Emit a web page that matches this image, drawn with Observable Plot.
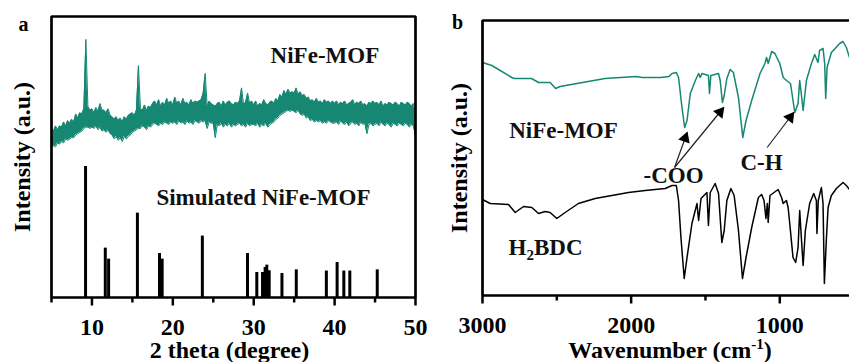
<!DOCTYPE html>
<html><head><meta charset="utf-8">
<script src="https://cdn.jsdelivr.net/npm/d3@7"></script>
<script src="https://cdn.jsdelivr.net/npm/@observablehq/plot@0.6"></script>
<style>
body{margin:0;background:#fff;}
#wrap{display:flex;flex-wrap:nowrap;width:849px;height:362px;background:#fff;}
</style></head><body><div id="wrap"></div>
<script>
const FONT = '"Liberation Serif","Times New Roman",serif';
const TEAL = "#158772";

// ---------- Panel a : XRD (measured trace given as upper / lower envelope of the noisy band) ----------
const xrdStart = 5, xrdStep = 0.25;
const xrdUpper = [
129,127,131,128,131,130,134,131,135,133,136,134,140,137,141,140,144,197,146,143,
144,141,145,142,148,143,143,141,144,139,138,136,138,135,137,134,138,136,139,140,
141,139,143,177,144,143,147,143,146,145,148,150,147,151,146,149,147,152,148,150,
147,153,148,150,147,152,148,149,147,151,148,150,149,150,151,156,171,146,150,148,
147,146,148,149,146,150,147,149,150,148,147,149,148,150,160,147,149,156,148,150,
147,150,146,148,147,151,148,147,149,150,148,152,150,155,153,158,155,159,156,157,
156,160,155,157,154,155,152,153,150,151,149,152,149,150,148,151,149,150,148,150,
148,150,147,149,148,150,147,148,149,151,147,149,148,150,147,148,146,149,148,150,
148,149,147,150,146,148,147,149,148,147,149,148,146,149,148,147,149,148,146,148,140
];
const xrdLower = [
114,116,115,118,117,119,118,121,120,121,122,122,124,125,126,127,129,130,130,129,
130,129,131,128,130,127,128,126,128,125,124,121,123,120,122,119,123,121,123,124,
126,127,128,129,129,131,130,128,131,130,132,133,132,131,133,132,134,133,132,134,
133,134,132,135,133,134,132,135,133,134,132,135,134,133,135,134,135,129,134,133,
133,122,132,131,133,130,132,131,133,130,132,131,132,133,131,132,130,133,131,132,
132,131,133,130,132,131,133,130,132,133,134,136,137,139,140,141,142,143,142,143,
142,141,143,140,139,140,137,138,135,136,134,135,134,135,133,134,133,135,134,133,
133,134,132,135,133,132,134,131,133,134,132,133,131,134,132,133,125,132,133,131,
132,133,131,134,132,131,133,132,130,133,132,131,133,132,131,133,132,130,132,131,123
];
const simTheta = [9.21, 11.65, 12.06, 15.62, 18.35, 18.68, 23.65, 29.23, 30.38, 31.09, 31.41, 31.62, 31.91, 33.49, 35.26, 38.98, 40.31, 41.14, 41.88, 45.27];
const simIntensity = [100, 37.7, 29.3, 64.4, 33.6, 29.3, 46.9, 33.6, 19.1, 19.1, 22.9, 24.7, 20.4, 18.3, 21.1, 20.2, 26.7, 20.2, 20.2, 21.1];
const xrdDomain = [5, 50];
const xrdMajorTicks = [10, 20, 30, 40, 50];
const xrdMinorTicks = [5, 15, 25, 35, 45];
const labelsA = [
  {text: "NiFe-MOF", x: 38.8, y: 184.5},
  {text: "Simulated NiFe-MOF", x: 31.2, y: 76.3}
];

// ---------- Panel b : FTIR ----------
const nifeWn = [3000,2937,2803,2785,2670,2623,2545,2508,2478,2176,1968,1924,1803,1745,1725,1696,1681,1658,1640,1624,1602,1568,1546,1535,1524,1480,1473,1464,1412,1401,1386,1374,1356,1334,1312,1278,1249,1227,1189,1133,1100,1089,1078,1055,1033,1000,977,955,928,899,877,866,854,843,821,787,765,743,732,709,698,691,682,653,597,575,552,531];
const nifeT  = [233,230,218,217,217,213,213,207,209,217,219,218,218,219,222,223,218,188,168,175,202,215,222,218,222,220,202,220,222,215,193,200,217,226,223,198,158,175,195,222,232,238,232,244,242,232,218,215,212,183,192,215,200,185,215,232,241,233,245,247,232,197,228,243,252,254,248,238];
const bdcWn = [3000,2948,2825,2780,2724,2668,2623,2578,2545,2500,2444,2355,2242,2130,2018,1906,1771,1725,1696,1681,1665,1643,1624,1591,1557,1546,1530,1490,1480,1468,1435,1412,1390,1374,1356,1329,1307,1278,1251,1227,1189,1144,1122,1106,1093,1084,1078,1066,1011,988,977,955,944,933,911,893,877,866,855,843,828,799,772,754,750,741,720,709,700,686,675,653,619,575,552,531];
const bdcT  = [96,92,91,83,89,88,82,84,83,77,83,92,97,100,103,105,107,110,110,95,58,17,38,72,92,75,97,103,70,103,112,102,53,65,95,107,100,65,17,38,68,98,101,95,77,92,73,100,106,98,92,95,88,72,38,33,48,85,58,30,65,92,102,95,62,95,108,92,12,58,88,100,107,113,110,106];
const ftirDomain = [3000, 531];
const ftirMajorTicks = [3000, 2000, 1000];
const ftirMinorTicks = [2500, 1500];
const labelsB = [
  {text: "NiFe-MOF", x: 2455, y: 165},
  {text: "-COO", x: 1715, y: 120},
  {text: "C-H", x: 1123, y: 133},
  {text: "H2BDC", x: 2576, y: 48}
];
const arrowsB = [
  {x1: 1708, y1: 128, x2: 1623, y2: 163},
  {x1: 1708, y1: 128, x2: 1377, y2: 188},
  {x1: 1085, y1: 148, x2: 906, y2: 183}
];

const baseStyle = {fontFamily: FONT, fontSize: "24px", fontWeight: "bold"};
const MAJOR_PX = 8, MINOR_PX = 5;

// Panel a
const yA = [0, 214.5];
const pxA = (yA[1] - yA[0]) / 281;           // data units per pixel (281px plot height)
const xrdData = xrdUpper.map((u, i) => ({t: xrdStart + i * xrdStep, u, l: xrdLower[i]}));
const simData = simTheta.map((t, i) => ({t, v: simIntensity[i]}));
const boxA = [[xrdDomain[0], yA[0]], [xrdDomain[0], yA[1]], [xrdDomain[1], yA[1]], [xrdDomain[1], yA[0]], [xrdDomain[0], yA[0]]];
const ticksA = [...xrdMajorTicks.map(t => ({t, len: MAJOR_PX})), ...xrdMinorTicks.map(t => ({t, len: MINOR_PX}))];
const plotA = Plot.plot({
  width: 430, height: 362, marginLeft: 51, marginRight: 15, marginTop: 16, marginBottom: 65,
  x: {domain: xrdDomain, label: null},
  y: {domain: yA, axis: null},
  style: baseStyle,
  marks: [
    Plot.ruleX(simData, {x: "t", y1: 0, y2: "v", stroke: "#000", strokeWidth: 3}),
    Plot.areaY(xrdData, {x: "t", y1: "l", y2: "u", fill: TEAL}),
    Plot.line(xrdData, {x: "t", y: "u", stroke: TEAL, strokeWidth: 1}),
    Plot.line(xrdData, {x: "t", y: "l", stroke: TEAL, strokeWidth: 1}),
    Plot.line(boxA, {x: d => d[0], y: d => d[1], stroke: "#000", strokeWidth: 2.7, strokeLinejoin: "miter", curve: "linear"}),
    Plot.link(ticksA, {x1: "t", x2: "t", y1: yA[0], y2: d => yA[0] - d.len * pxA, stroke: "#000", strokeWidth: 2.5}),
    Plot.axisX({ticks: xrdMajorTicks, tickSize: 0, tickPadding: 20, stroke: "none", label: null, tickFormat: String}),
    Plot.text(labelsA, {x: "x", y: "y", text: "text", fontSize: 23, fill: "#111"}),
    Plot.text(["Intensity (a.u.)"], {frameAnchor: "left", dx: -29, rotate: -90, text: d => d, textAnchor: "middle", lineAnchor: "middle"}),
    Plot.text(["2 theta (degree)"], {frameAnchor: "bottom", dy: 53, dx: -4, text: d => d, textAnchor: "middle", lineAnchor: "middle"}),
    Plot.text(["a"], {frameAnchor: "top-left", dx: -28, dy: 8, fontSize: 20, text: d => d, textAnchor: "middle", lineAnchor: "middle"})
  ]
});

// Panel b
const yB = [0, 275];
const pxB = (yB[1] - yB[0]) / 275;
const nifeData = nifeWn.map((w, i) => ({w, v: nifeT[i]}));
const bdcData = bdcWn.map((w, i) => ({w, v: bdcT[i]}));
const boxB = [[ftirDomain[1], yB[1]], [ftirDomain[0], yB[1]], [ftirDomain[0], yB[0]], [ftirDomain[1], yB[0]]];
const ticksB = [...ftirMajorTicks.map(t => ({t, len: MAJOR_PX})), ...ftirMinorTicks.map(t => ({t, len: MINOR_PX}))];
function makeB(heads) {
  return Plot.plot({
    width: 419, height: 362, marginLeft: 52, marginRight: 0, marginTop: 20, marginBottom: 67,
    x: {domain: ftirDomain, label: null},
    y: {domain: yB, axis: null},
    style: baseStyle,
    marks: [
      Plot.line(nifeData, {x: "w", y: "v", stroke: TEAL, strokeWidth: 1.5}),
      Plot.line(bdcData, {x: "w", y: "v", stroke: "#000", strokeWidth: 1.5}),
      Plot.line(boxB, {x: d => d[0], y: d => d[1], stroke: "#000", strokeWidth: 2.7, strokeLinejoin: "miter", curve: "linear"}),
      Plot.link(ticksB, {x1: "t", x2: "t", y1: yB[0], y2: d => yB[0] - d.len * pxB, stroke: "#000", strokeWidth: 2.5}),
      Plot.axisX({ticks: ftirMajorTicks, tickSize: 0, tickPadding: 20, stroke: "none", label: null, tickFormat: String}),
      Plot.link(arrowsB, {x1: "x1", y1: "y1", x2: "x2", y2: "y2", stroke: "#222", strokeWidth: 1.2}),
      heads ? Plot.dot(heads, {x: "x", y: "y", symbol: "triangle", r: 4.5, fill: "#000", stroke: "none", rotate: "rotate"}) : null,
      Plot.text(labelsB, {x: "x", y: "y", text: "text", fontSize: 23, fill: "#111"}),
      Plot.text(["Intensity (a.u.)"], {frameAnchor: "left", dx: -23, rotate: -90, text: d => d, textAnchor: "middle", lineAnchor: "middle"}),
      Plot.text(["Wavenumber (cm-1)"], {frameAnchor: "bottom", dy: 55, dx: 4, text: d => d, textAnchor: "middle", lineAnchor: "middle"}),
      Plot.text(["b"], {frameAnchor: "top-left", dx: -25, dy: 2, fontSize: 20, text: d => d, textAnchor: "middle", lineAnchor: "middle"})
    ]
  });
}
let plotB = makeB(null);
const sx = plotB.scale("x"), sy = plotB.scale("y");
const heads = arrowsB.map(a => {
  const X1 = sx.apply(a.x1), Y1 = sy.apply(a.y1), X2 = sx.apply(a.x2), Y2 = sy.apply(a.y2);
  const L = Math.hypot(X2 - X1, Y2 - Y1), ux = (X2 - X1) / L, uy = (Y2 - Y1) / L;
  const back = 6;
  return {x: sx.invert(X2 - ux * back), y: sy.invert(Y2 - uy * back), rotate: Math.atan2(ux, -uy) * 180 / Math.PI};
});
plotB = makeB(heads);

// rich text: subscript / superscript
d3.select(plotB).selectAll("text").filter(function () { return this.textContent === "H2BDC"; }).each(function () {
  const t = d3.select(this); t.text(null);
  t.append("tspan").text("H");
  t.append("tspan").attr("font-size", 15).attr("dy", 5).text("2");
  t.append("tspan").attr("dy", -5).text("BDC");
});
d3.select(plotB).selectAll("text").filter(function () { return this.textContent === "Wavenumber (cm-1)"; }).each(function () {
  const t = d3.select(this); t.text(null);
  t.append("tspan").text("Wavenumber (cm");
  t.append("tspan").attr("font-size", 15).attr("dy", -9).text("-1");
  t.append("tspan").attr("dy", 9).text(")");
});

const wrap = document.getElementById("wrap");
wrap.appendChild(plotA);
wrap.appendChild(plotB);
</script></body></html>
